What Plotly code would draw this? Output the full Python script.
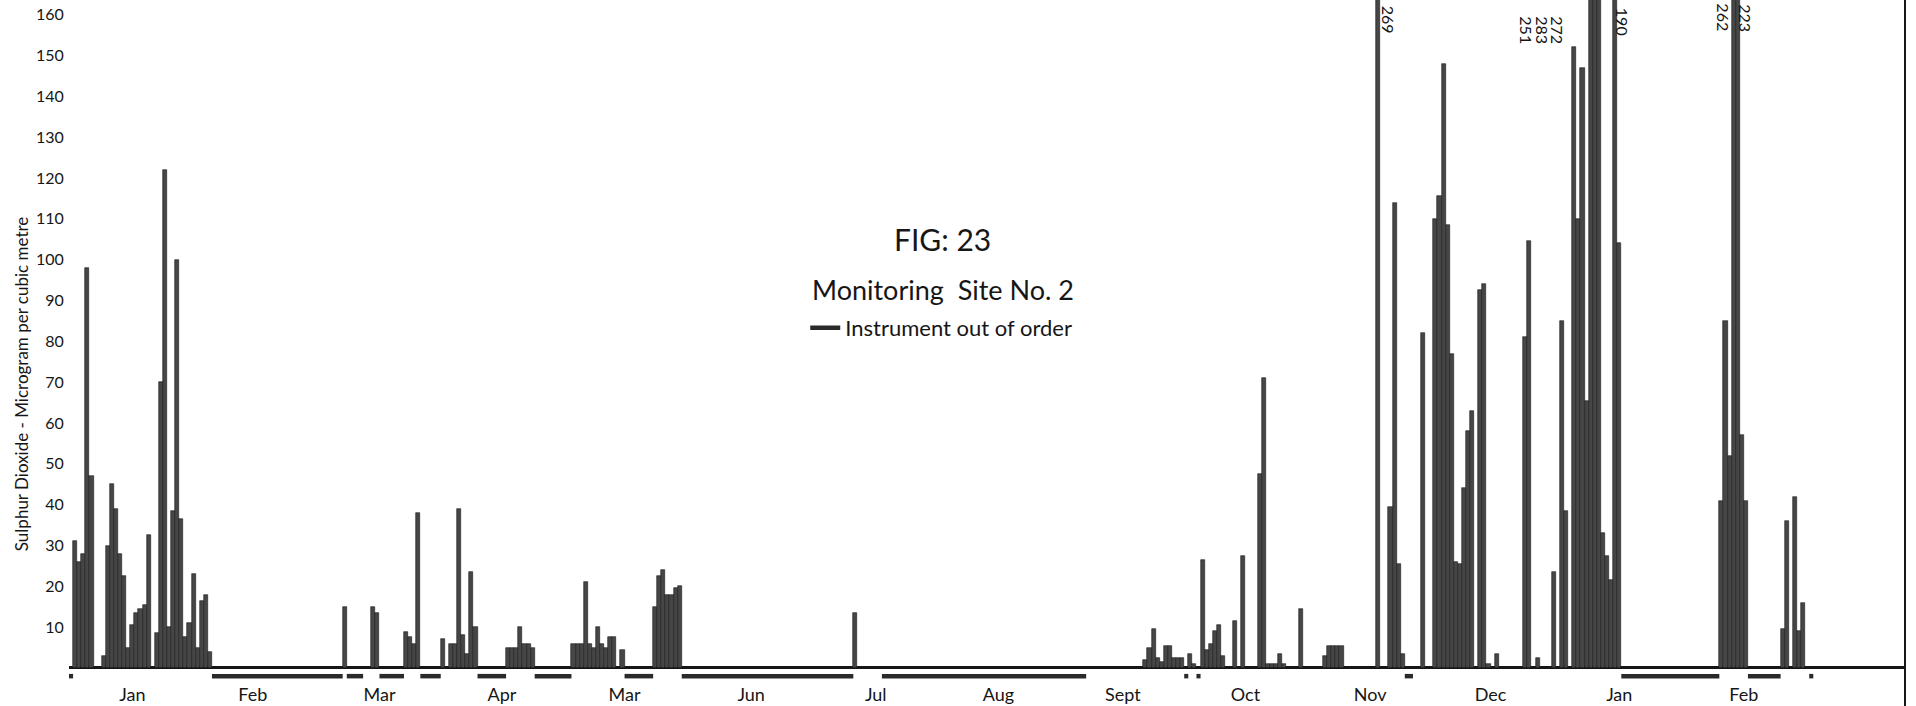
import plotly.graph_objects as go

# ---------------- data ----------------
# day index: 0 = 1 January of the first year; values in microgram per cubic metre
# each entry: (first day of a run of consecutive readings, readings)
winter_y1 = [
    (1,   [31, 26, 28, 98, 47]),
    (8,   [3, 30, 45, 39, 28, 22.5, 5, 10.5, 13.5, 14.5, 15.5, 32.5]),
    (21,  [8.5, 70, 122, 10, 38.5, 100, 36.5, 7.5, 11, 23, 5, 16.5, 18, 4]),
]
spring_y1 = [
    (67,  [15]),
    (74,  [15, 13.5]),
    (82,  [8.8, 7.5, 6, 38]),
    (91,  [7]),
    (93,  [6, 6, 39, 8, 3.5, 23.5, 10]),
    (107, [5, 5, 5, 10, 6, 6, 5]),
    (123, [6, 6, 6, 21, 6, 5, 10, 6, 5, 7.5, 7.5]),
    (135, [4.5]),
    (143, [15, 22.5, 24, 18, 18, 19.5, 20]),
]
summer_y1 = [
    (192, [13.5]),
]
autumn_y1 = [
    (263, [2, 5, 9.5, 2.5, 1.5, 5.5, 5.5, 2.5, 2.5, 2.5]),
    (274, [3.5, 1]),
    (277, [26.5, 4.5, 6, 9, 10.5, 3]),
    (285, [11.5]),
    (287, [27.5]),
    (291, [47.5, 71, 1, 1, 1, 3.5, 1]),
    (301, [14.5]),
    (307, [3, 5.5, 5.5, 5.5, 5.5]),
    (320, [269]),
    (323, [39.5, 114, 25.5, 3.5]),
    (331, [82]),
    (334, [110, 115.5, 148, 108.5, 77, 26, 25.5, 44, 58, 63]),
    (345, [92.5, 94, 1]),
    (349, [3.5]),
    (356, [81, 104.5]),
    (359, [2.5]),
    (363, [23.5]),
    (365, [85, 38.5]),
    (368, [152, 110, 147, 65.5, 251, 283, 272, 33, 27.5, 21.5, 190, 104]),
]
winter_y2 = [
    (404, [41, 85, 52, 262, 223, 57, 41]),
    (419, [9.5, 36]),
    (422, [42, 9, 16]),
]

# periods when the instrument was out of order (first day, last day)
outage_start = [0, 35, 68, 76, 86, 100, 114, 136, 150, 199, 273, 276, 327, 380, 411, 426]
outage_end   = [0, 66, 71, 81, 90, 106, 122, 142, 191, 248, 273, 276, 328, 403, 418, 426]

# off-scale readings that are written beside their bars
offscale_days = [320, 372, 373, 374, 378, 407, 408]

month_labels = ["Jan", "Feb", "Mar", "Apr", "Mar", "Jun", "Jul", "Aug",
                "Sept", "Oct", "Nov", "Dec", "Jan", "Feb"]
month_pos = [15.5, 45, 76, 106, 136, 167, 197.5, 227.5, 258, 288, 318.5, 348, 379.5, 410]

y_ticks = list(range(10, 170, 10))

# ---------------- build ----------------
days, vals = [], []
for season in (winter_y1, spring_y1, summer_y1, autumn_y1, winter_y2):
    for start, run in season:
        for i, v in enumerate(run):
            days.append(start + i)
            vals.append(v)
value_of = dict(zip(days, vals))

FONT = "Lato"
INK = "#161616"

fig = go.Figure()
fig.add_trace(go.Bar(
    x=[d + 0.5 for d in days], y=vals, width=1,
    marker=dict(color="#464646", line=dict(color="#1a1a1a", width=0.6)),
    showlegend=False, hoverinfo="x+y",
))

ox, oy = [], []
for s, e in zip(outage_start, outage_end):
    ox += [s, e + 1, None]
    oy += [-2, -2, None]
fig.add_trace(go.Scatter(
    x=ox, y=oy, mode="lines", line=dict(color="#2a2a2a", width=4.5),
    name="Instrument out of order", showlegend=True, hoverinfo="skip",
))

xshift = [11, -64, -52, -41, 8, -10, 8]
ytop = [4, 14, 14, 14, 6, 1, 2]
for d, xs, yt in zip(offscale_days, xshift, ytop):
    fig.add_annotation(
        x=d + 0.5, xref="x", y=1, yref="paper", yanchor="top", xanchor="center",
        yshift=-yt, xshift=xs, text=str(value_of[d]), textangle=90, showarrow=False,
        font=dict(family=FONT, size=16, color=INK),
    )

fig.add_annotation(x=0.476, y=0.6496, xref="paper", yref="paper",
                   xanchor="center", yanchor="middle",
                   text="FIG: 23", showarrow=False,
                   font=dict(family=FONT, size=30, color=INK))
fig.add_annotation(x=0.476, y=0.575, xref="paper", yref="paper",
                   xanchor="center", yanchor="middle",
                   text="Monitoring  Site No. 2", showarrow=False,
                   font=dict(family=FONT, size=27, color=INK))
fig.add_annotation(x=-0.0262, y=0.438, xref="paper", yref="paper",
                   xanchor="center", yanchor="middle",
                   text="Sulphur Dioxide - Microgram per cubic metre",
                   textangle=-90, showarrow=False,
                   font=dict(family=FONT, size=17, color=INK))

fig.add_shape(type="line", xref="paper", yref="paper", x0=1, x1=1, y0=-0.036, y1=1,
              line=dict(color=INK, width=2))

fig.update_layout(
    width=1916, height=706,
    margin=dict(l=69, r=11, t=0, b=24),
    paper_bgcolor="white", plot_bgcolor="white",
    font=dict(family=FONT, color=INK),
    bargap=0,
    legend=dict(x=0.401, y=0.519, xanchor="left", yanchor="middle",
                bgcolor="rgba(0,0,0,0)", font=dict(family=FONT, size=22, color=INK),
                itemwidth=30),
    xaxis=dict(range=[0, 449.45], showgrid=False, zeroline=False, showline=False,
               tickvals=month_pos, ticktext=month_labels, ticks="",
               tickfont=dict(family=FONT, size=18, color=INK)),
    yaxis=dict(range=[-3.43, 163.6], showgrid=False, zeroline=True,
               zerolinecolor=INK, zerolinewidth=2.5, showline=False,
               tickvals=y_ticks, ticks="outside", ticklen=1,
               tickcolor="rgba(0,0,0,0)",
               tickfont=dict(family=FONT, size=16, color=INK)),
)

fig.write_html("out.html", config={"displayModeBar": False},
               post_script="document.body.style.margin='0';document.body.style.overflow='hidden';")
